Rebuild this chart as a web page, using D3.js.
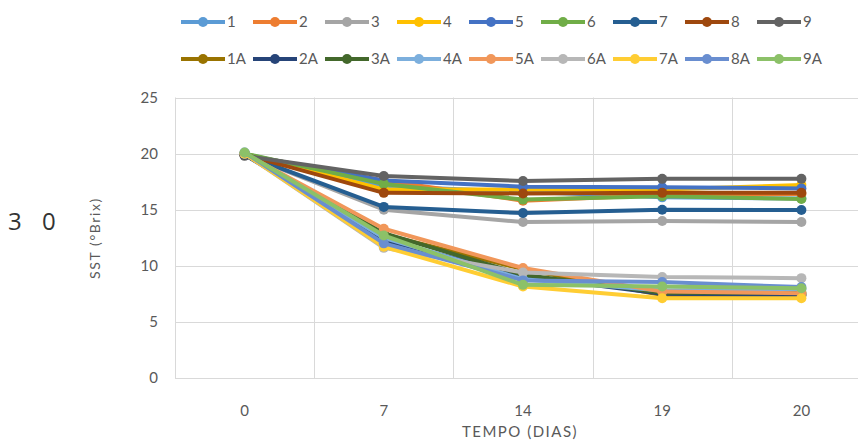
<!DOCTYPE html>
<html>
<head>
<meta charset="utf-8">
<script src="https://cdn.jsdelivr.net/npm/d3@7"></script>
<style>
  body { margin: 0; background: #fff; }
  svg { display: block; }
  text { font-family: Lato, "Liberation Sans", sans-serif; fill: #595959; }
</style>
</head>
<body>
<svg id="chart" width="858" height="442"></svg>
<script>
// tempo (dias)
var days = ["0", "7", "14", "19", "20"];
var yTicks = [0, 5, 10, 15, 20, 25];

var names = ["1", "2", "3", "4", "5", "6", "7", "8", "9",
             "1A", "2A", "3A", "4A", "5A", "6A", "7A", "8A", "9A"];
var colors = ["#5B9BD5", "#ED7D31", "#A5A5A5", "#FFC000", "#4472C4", "#70AD47", "#255E91", "#9E480E", "#636363",
              "#997300", "#264478", "#43682B", "#7CAFDD", "#F1975A", "#B7B7B7", "#FFCD33", "#698ED0", "#8CC168"];

// SST (°Brix)
var s1 = [20.0, 17.1, 16.6, 16.1, 16.0];
var s2 = [19.9, 17.6, 15.8, 16.3, 16.4];
var s3 = [19.9, 15.0, 13.9, 14.0, 13.9];
var s4 = [20.0, 16.8, 16.8, 16.8, 17.2];
var s5 = [19.9, 17.6, 17.05, 17.0, 16.9];
var s6 = [20.0, 17.3, 15.9, 16.2, 15.95];
var s7 = [19.9, 15.25, 14.7, 15.0, 14.97];
var s8 = [19.9, 16.5, 16.45, 16.5, 16.5];
var s9 = [19.8, 18.0, 17.55, 17.75, 17.75];
var a1 = [19.9, 12.8, 9.7, 7.4, 7.4];
var a2 = [19.9, 12.3, 9.1, 7.5, 7.4];
var a3 = [20.0, 12.9, 9.2, 7.6, 7.6];
var a4 = [20.0, 12.5, 8.8, 7.8, 7.9];
var a5 = [20.0, 13.3, 9.8, 7.7, 7.55];
var a6 = [20.0, 11.6, 9.4, 9.0, 8.9];
var a7 = [20.0, 11.7, 8.15, 7.1, 7.1];
var a8 = [20.1, 12.0, 8.7, 8.55, 8.1];
var a9 = [20.1, 12.7, 8.3, 8.15, 8.0];

var values = [s1, s2, s3, s4, s5, s6, s7, s8, s9, a1, a2, a3, a4, a5, a6, a7, a8, a9];
var series = names.map(function(n, i) { return {name: n, color: colors[i], values: values[i]}; });

var svg = d3.select("#chart");
var pLeft = 175, pRight = 871, pTop = 97.5, pBottom = 378;

var x = d3.scaleBand().domain(days).range([pLeft, pRight]).padding(0);
var y = d3.scaleLinear().domain([0, 25]).range([pBottom, pTop]);

// grid
var grid = svg.append("g").attr("stroke", "#d9d9d9").attr("stroke-width", 1);
grid.selectAll(".h").data(yTicks).enter().append("line")
  .attr("x1", pLeft).attr("x2", pRight)
  .attr("y1", function(d) { return Math.round(y(d)) + 0.5; })
  .attr("y2", function(d) { return Math.round(y(d)) + 0.5; });
grid.selectAll(".v").data(days).enter().append("line")
  .attr("x1", function(d) { return Math.round(x(d)) + 0.5; })
  .attr("x2", function(d) { return Math.round(x(d)) + 0.5; })
  .attr("y1", pTop).attr("y2", pBottom);

// axes
var yAxis = svg.append("g").attr("transform", "translate(" + (pLeft - 10) + ",0)")
  .call(d3.axisLeft(y).tickValues(yTicks).tickSize(0).tickPadding(7));
yAxis.select(".domain").remove();
yAxis.selectAll("text").style("font-family", "Lato").style("font-size", "15px").attr("fill", "#595959");

var xAxis = svg.append("g").attr("transform", "translate(0," + (pBottom + 21) + ")")
  .call(d3.axisBottom(x).tickSize(0).tickPadding(6));
xAxis.select(".domain").remove();
xAxis.selectAll("text").style("font-family", "Lato").style("font-size", "15px").attr("fill", "#595959");

// titles
svg.append("text")
  .attr("transform", "translate(100,238) rotate(-90)")
  .attr("text-anchor", "middle")
  .style("font-size", "14px")
  .style("letter-spacing", "1.6px")
  .text("SST (°Brix)");

svg.append("text")
  .attr("x", 520).attr("y", 437)
  .attr("text-anchor", "middle")
  .style("font-size", "15px")
  .style("letter-spacing", "1.5px")
  .text("TEMPO (DIAS)");

svg.append("text")
  .attr("x", 8).attr("y", 230)
  .style("font-family", "Open Sans")
  .style("font-size", "24px")
  .style("letter-spacing", "7px")
  .style("fill", "#333")
  .text("3 0");

// lines
var line = d3.line()
  .x(function(d, i) { return x(days[i]) + x.bandwidth() / 2; })
  .y(function(d) { return y(d); });

var sg = svg.selectAll(".series").data(series).enter().append("g").attr("class", "series");
sg.append("path")
  .attr("d", function(d) { return line(d.values); })
  .attr("fill", "none")
  .attr("stroke", function(d) { return d.color; })
  .attr("stroke-width", 4)
  .attr("stroke-linejoin", "round");
sg.selectAll("circle").data(function(d) { return d.values.map(function(v) { return {v: v, c: d.color}; }); })
  .enter().append("circle")
  .attr("cx", function(d, i) { return x(days[i]) + x.bandwidth() / 2; })
  .attr("cy", function(d) { return y(d.v); })
  .attr("r", 5)
  .attr("fill", function(d) { return d.c; });

// legend
var lg = svg.selectAll(".leg").data(series).enter().append("g")
  .attr("transform", function(d, i) { return "translate(" + (181 + 72 * (i % 9)) + "," + (i < 9 ? 22 : 59) + ")"; });
lg.append("line").attr("x1", 0).attr("x2", 44)
  .attr("stroke", function(d) { return d.color; }).attr("stroke-width", 4);
lg.append("circle").attr("cx", 22).attr("r", 5).attr("fill", function(d) { return d.color; });
lg.append("text").attr("x", 46).attr("dy", "0.36em")
  .style("font-size", "15px")
  .text(function(d) { return d.name; });
</script>
</body>
</html>
